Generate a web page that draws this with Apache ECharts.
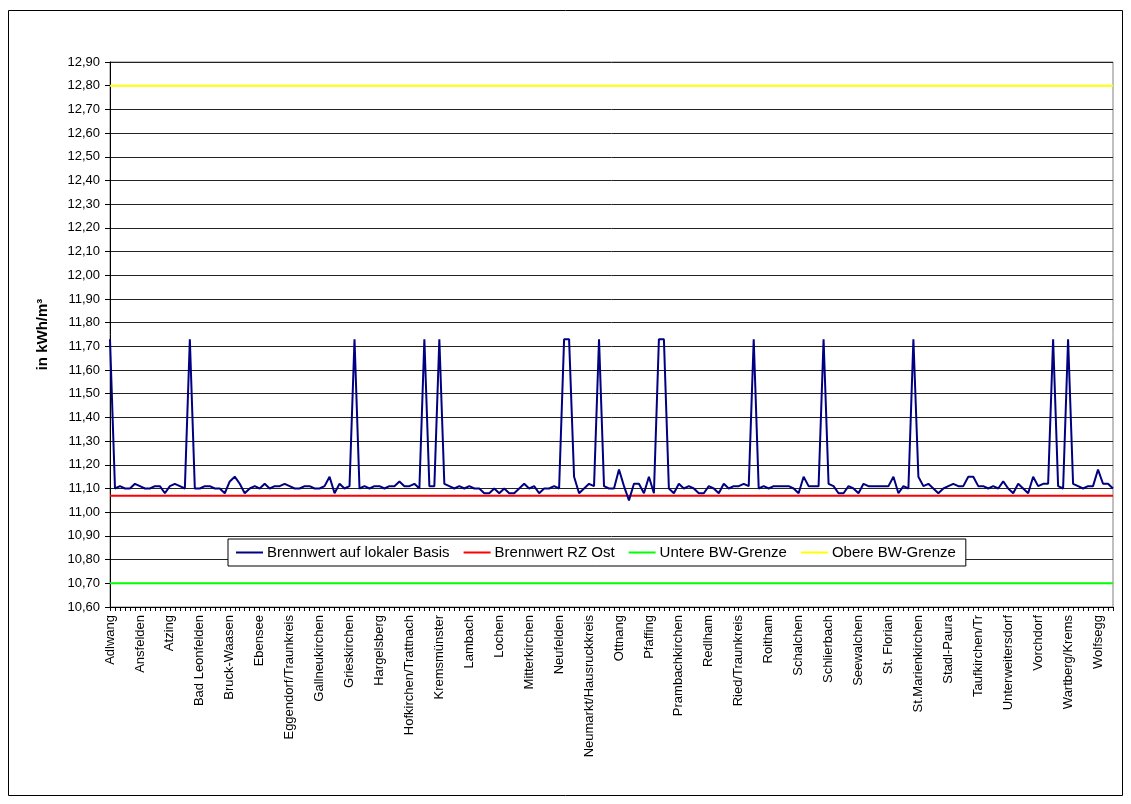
<!DOCTYPE html>
<html>
<head>
<meta charset="utf-8">
<title>Brennwert</title>
<script src="https://cdn.jsdelivr.net/npm/echarts@6/dist/echarts.min.js"></script>
<style>
  html, body { margin: 0; padding: 0; background: #fff; }
  #chart { width: 1131px; height: 804px; }
</style>
</head>
<body>
<div id="chart"></div>
<script>
// Labelled municipalities, one every `labelStep` categories
const labeledTowns = [
  'Adlwang', 'Ansfelden', 'Atzing', 'Bad Leonfelden', 'Bruck-Waasen', 'Ebensee',
  'Eggendorf/Traunkreis', 'Gallneukirchen', 'Grieskirchen', 'Hargelsberg',
  'Hofkirchen/Trattnach', 'Kremsmünster', 'Lambach', 'Lochen', 'Mitterkirchen',
  'Neufelden', 'Neumarkt/Hausruckkreis', 'Ottnang', 'Pfaffing', 'Prambachkirchen',
  'Redlham', 'Ried/Traunkreis', 'Roitham', 'Schalchen', 'Schlierbach', 'Seewalchen',
  'St. Florian', 'St.Marienkirchen', 'Stadl-Paura', 'Taufkirchen/Tr',
  'Unterweitersdorf', 'Vorchdorf', 'Wartberg/Krems', 'Wolfsegg'
];
const labelStep = 6;

// Brennwert auf lokaler Basis (kWh/m³), one value per municipality
const brennwertLokal = [
  11.73, 11.10, 11.11, 11.10, 11.10, 11.12, 11.11, 11.10, 11.10, 11.11,
  11.11, 11.08, 11.11, 11.12, 11.11, 11.10, 11.73, 11.10, 11.10, 11.11,
  11.11, 11.10, 11.10, 11.08, 11.13, 11.15, 11.12, 11.08, 11.10, 11.11,
  11.10, 11.12, 11.10, 11.11, 11.11, 11.12, 11.11, 11.10, 11.10, 11.11,
  11.11, 11.10, 11.10, 11.11, 11.15, 11.08, 11.12, 11.10, 11.11, 11.73,
  11.10, 11.11, 11.10, 11.11, 11.11, 11.10, 11.11, 11.11, 11.13, 11.11,
  11.11, 11.12, 11.10, 11.73, 11.11, 11.11, 11.73, 11.12, 11.11, 11.10,
  11.11, 11.10, 11.11, 11.10, 11.10, 11.08, 11.08, 11.10, 11.08, 11.10,
  11.08, 11.08, 11.10, 11.12, 11.10, 11.11, 11.08, 11.10, 11.10, 11.11,
  11.10, 11.73, 11.73, 11.15, 11.08, 11.10, 11.12, 11.11, 11.73, 11.11,
  11.10, 11.10, 11.18, 11.11, 11.05, 11.12, 11.12, 11.08, 11.15, 11.08,
  11.73, 11.73, 11.10, 11.08, 11.12, 11.10, 11.11, 11.10, 11.08, 11.08,
  11.11, 11.10, 11.08, 11.12, 11.10, 11.11, 11.11, 11.12, 11.11, 11.73,
  11.10, 11.11, 11.10, 11.11, 11.11, 11.11, 11.11, 11.10, 11.08, 11.15,
  11.11, 11.11, 11.11, 11.73, 11.12, 11.11, 11.08, 11.08, 11.11, 11.10,
  11.08, 11.12, 11.11, 11.11, 11.11, 11.11, 11.11, 11.15, 11.08, 11.11,
  11.10, 11.73, 11.15, 11.11, 11.12, 11.10, 11.08, 11.10, 11.11, 11.12,
  11.11, 11.11, 11.15, 11.15, 11.11, 11.11, 11.10, 11.11, 11.10, 11.13,
  11.10, 11.08, 11.12, 11.10, 11.08, 11.15, 11.11, 11.12, 11.12, 11.73,
  11.11, 11.10, 11.73, 11.12, 11.11, 11.10, 11.11, 11.11, 11.18, 11.12,
  11.12, 11.10
];

// Constant reference values (kWh/m³)
const brennwertRzOst = 11.07;
const untereGrenze = 10.70;
const obereGrenze = 12.80;

// Value axis range
const yMin = 10.6;
const yMax = 12.9;
const yStep = 0.1;

// Category axis: labelled names placed every labelStep entries
const categories = brennwertLokal.map((_, i) =>
  i % labelStep === 0 && labeledTowns[i / labelStep] ? labeledTowns[i / labelStep] : ''
);
const constantSeries = v => categories.map(() => v);

const FONT = '"Liberation Sans", Arial, sans-serif';
const chart = echarts.init(document.getElementById('chart'), null, { renderer: 'canvas' });

chart.setOption({
  animation: false,
  backgroundColor: '#ffffff',
  textStyle: { fontFamily: FONT, color: '#000' },
  graphic: [{
    type: 'rect',
    shape: { x: 8.5, y: 10.5, width: 1114, height: 785 },
    style: { fill: 'none', stroke: '#000', lineWidth: 1 },
    z: -1
  }],
  grid: {
    left: 110, right: 18, top: 62, bottom: 197,
    show: true, borderColor: '#808080', borderWidth: 1, backgroundColor: '#fff'
  },
  legend: {
    left: 228, top: 539,
    orient: 'horizontal',
    backgroundColor: '#fff',
    borderColor: '#000', borderWidth: 1, borderRadius: 0,
    padding: [6, 10, 6, 8],
    itemGap: 14,
    itemWidth: 27, itemHeight: 2,
    icon: 'rect',
    textStyle: { fontFamily: FONT, fontSize: 15, color: '#000', padding: [0, 0, 0, -1] },
    data: ['Brennwert auf lokaler Basis', 'Brennwert RZ Ost', 'Untere BW-Grenze', 'Obere BW-Grenze']
  },
  xAxis: {
    type: 'category',
    data: categories,
    boundaryGap: false,
    axisLine: { lineStyle: { color: '#000', width: 1 } },
    axisTick: { show: true, interval: 0, length: 4, lineStyle: { color: '#000' } },
    axisLabel: {
      interval: labelStep - 1,
      rotate: 90,
      margin: 8,
      fontFamily: FONT, fontSize: 13, color: '#000'
    },
    splitLine: { show: false }
  },
  yAxis: {
    type: 'value',
    min: yMin, max: yMax, interval: yStep,
    name: 'in kWh/m³',
    nameLocation: 'middle',
    nameGap: 60,
    nameRotate: 90,
    nameTextStyle: { fontFamily: FONT, fontSize: 15, fontWeight: 'bold', color: '#000' },
    axisLine: { show: true, lineStyle: { color: '#000', width: 1 } },
    axisTick: { show: true, length: 5, lineStyle: { color: '#000' } },
    axisLabel: {
      margin: 10,
      fontFamily: FONT, fontSize: 13, color: '#000',
      formatter: v => v.toFixed(2).replace('.', ',')
    },
    splitLine: { show: true, lineStyle: { color: '#222', width: 1 } }
  },
  series: [
    {
      name: 'Brennwert auf lokaler Basis',
      type: 'line',
      data: brennwertLokal,
      showSymbol: false,
      color: '#000080',
      lineStyle: { color: '#000080', width: 2 },
      z: 5
    },
    {
      name: 'Brennwert RZ Ost',
      type: 'line',
      data: constantSeries(brennwertRzOst),
      showSymbol: false,
      color: '#ff0000',
      lineStyle: { color: '#ff0000', width: 2 },
      z: 4
    },
    {
      name: 'Untere BW-Grenze',
      type: 'line',
      data: constantSeries(untereGrenze),
      showSymbol: false,
      color: '#00ff00',
      lineStyle: { color: '#00ff00', width: 2 },
      z: 4
    },
    {
      name: 'Obere BW-Grenze',
      type: 'line',
      data: constantSeries(obereGrenze),
      showSymbol: false,
      color: '#ffff00',
      lineStyle: { color: '#ffff00', width: 2 },
      z: 4
    }
  ]
});
</script>
</body>
</html>
